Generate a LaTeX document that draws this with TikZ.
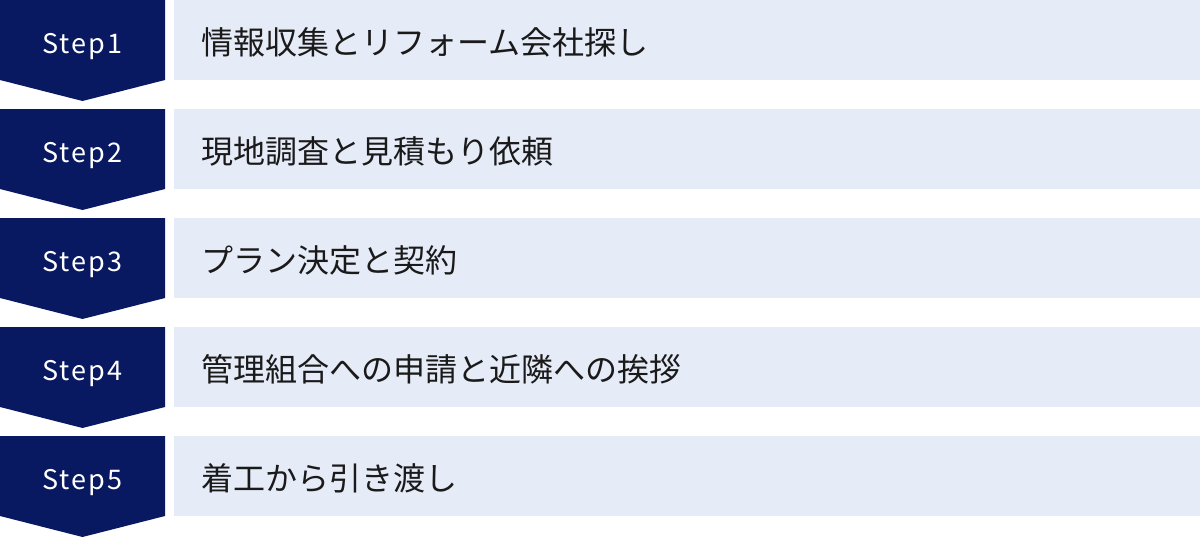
\documentclass[tikz,border=0pt]{standalone}
\usepackage{fontspec}
\newfontfamily\jpfont{Noto Sans CJK JP}
\newfontfamily\stepfont{Noto Sans CJK JP}[LetterSpace=8]
\definecolor{stepnavy}{RGB}{9,25,97}
\definecolor{steplight}{RGB}{230,235,248}
\definecolor{steptext}{RGB}{26,26,26}
\tikzset{
  chevron/.style={fill=stepnavy},
  steplabel/.style={anchor=base,text=white,inner sep=0pt,font=\stepfont\fontsize{27}{27}\selectfont},
  stepbar/.style={fill=steplight,anchor=north west,inner sep=0pt,minimum width=1026pt,minimum height=80pt},
  stepdesc/.style={anchor=base west,text=steptext,inner sep=0pt,font=\jpfont\fontsize{32}{32}\selectfont}
}
\begin{document}
\begin{tikzpicture}[x=1pt,y=-1pt]
  \useasboundingbox (0,0) rectangle (1200,538);
  \foreach \i/\desc in {1/情報収集とリフォーム会社探し,
                        2/現地調査と見積もり依頼,
                        3/プラン決定と契約,
                        4/管理組合への申請と近隣への挨拶,
                        5/着工から引き渡し}{
    \pgfmathsetmacro\ytop{(\i-1)*109}
    % chevron on the left
    \fill[chevron] (0,\ytop) -- (165,\ytop) -- (165,\ytop+80) -- (82.5,\ytop+101) -- (0,\ytop+80) -- cycle;
    \node[steplabel] (step\i) at (82.5,\ytop+53) {Step\i};
    % bar with the text
    \node[stepbar] (bar\i) at (174,\ytop) {};
    \node[stepdesc] (desc\i) at (201,\ytop+54) {\desc};
  }
\end{tikzpicture}
\end{document}
